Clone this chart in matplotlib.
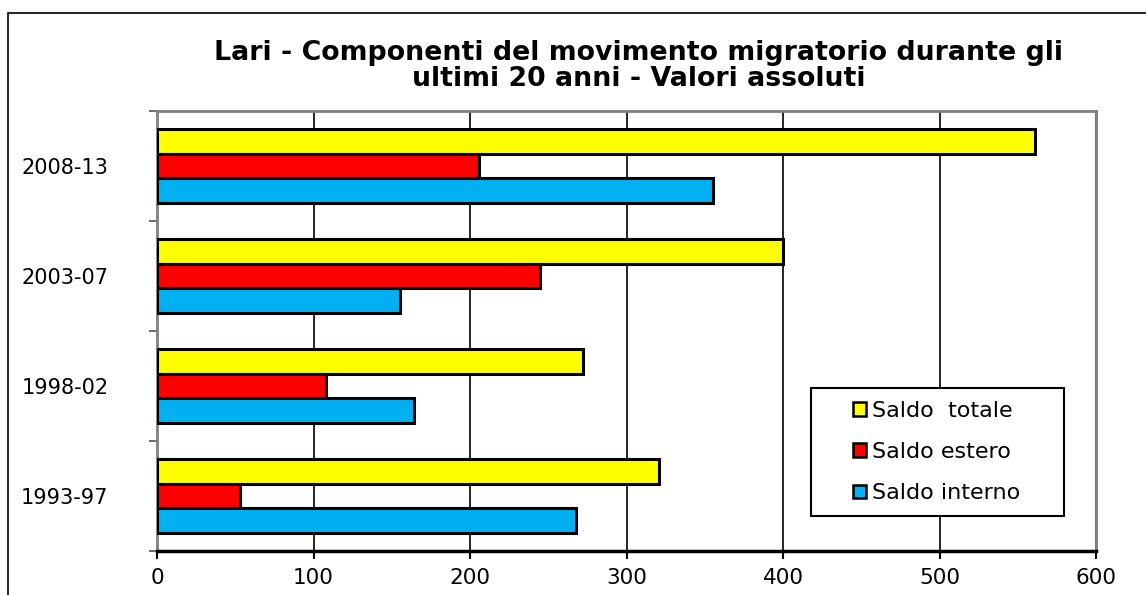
import matplotlib
matplotlib.use("Agg")
import matplotlib.pyplot as plt
from matplotlib.patches import Rectangle
import numpy as np

plt.rcParams['font.family'] = ['DejaVu Sans']

categories = ["1993-97", "1998-02", "2003-07", "2008-13"]
saldo_totale = [321, 272, 400, 561]
saldo_estero = [53, 108, 245, 206]
saldo_interno = [268, 164, 155, 355]
series_labels = ["Saldo  totale", "Saldo estero", "Saldo interno"]
x_ticks = [0, 100, 200, 300, 400, 500, 600]

colors = ["#FFFF00", "#FF0000", "#00B0F0"]

fig = plt.figure(figsize=(11.46, 5.95), dpi=100)
ax = fig.add_axes([157/1146, 44/595, 939/1146, 440/595])

y = np.arange(len(categories))
h = 0.222
series = [saldo_totale, saldo_estero, saldo_interno]
offsets = [h, 0, -h]
handles = []
for vals, off, col, lab in zip(series, offsets, colors, series_labels):
    b = ax.barh(y + off, vals, height=h, color=col, edgecolor="black",
                linewidth=2.2, label=lab, zorder=3)
    handles.append(b)

ax.set_xlim(0, 600)
ax.set_ylim(-0.5, 3.5)
ax.set_xticks(x_ticks)
ax.set_xticklabels([str(t) for t in x_ticks], fontsize=15.5)
ax.xaxis.grid(True, color="black", linewidth=1.2, zorder=0)
ax.set_axisbelow(True)

ax.set_yticks(np.arange(-0.5, 4, 1))
ax.set_yticklabels([])
ax.set_yticks(y, minor=True)
ax.set_yticklabels(categories, minor=True, fontsize=15)
ax.tick_params(axis='y', which='minor', length=0, pad=35)
ax.tick_params(axis='y', which='major', length=6, width=1.2, color="#555555", direction='out')
ax.tick_params(axis='x', length=6, width=1.5, direction='out', pad=6)

for s in ['top', 'right', 'left']:
    ax.spines[s].set_color("#808080")
    ax.spines[s].set_linewidth(2)
ax.spines['bottom'].set_color("black")
ax.spines['bottom'].set_linewidth(2.5)

fig.text(639/1146, 1 - 66/595, "Lari - Componenti del movimento migratorio durante gli\nultimi 20 anni - Valori assoluti",
         ha='center', va='center', fontsize=19.3, fontweight='bold', linespacing=1.05)

leg = fig.legend(handles=handles, labels=series_labels, loc='center',
                 bbox_to_anchor=(937/1146, 1 - 452/595), bbox_transform=fig.transFigure,
                 fontsize=16, frameon=False,
                 borderpad=0.3, labelspacing=0.95, handlelength=0.55, handleheight=0.55,
                 handletextpad=0.3, borderaxespad=0)
for p in leg.get_patches():
    p.set_linewidth(1.8)

# legend frame
fig.patches.append(Rectangle((811/1146, 1 - 516/595), 253/1146, 128/595, transform=fig.transFigure,
                             facecolor="white", edgecolor="black", linewidth=1.5, zorder=4))
leg.set_zorder(5)

# outer chart border (open on right/bottom)
fig.patches.append(Rectangle((8/1146, -0.1), 1.2, 1.1 - 13/595, transform=fig.transFigure,
                             fill=False, edgecolor="black", linewidth=1.2))

fig.savefig("out.png", dpi=100)
